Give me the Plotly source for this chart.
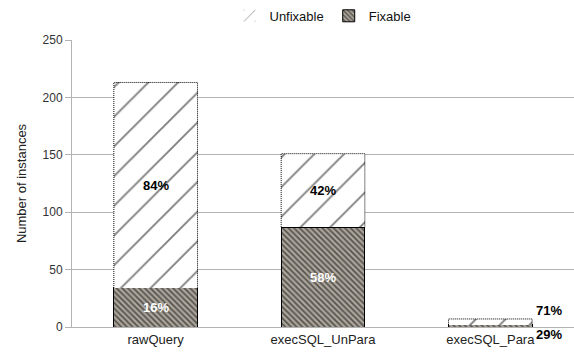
import plotly.graph_objects as go

categories = ["rawQuery", "execSQL_UnPara", "execSQL_Para"]
fixable = [34, 87, 2]
unfixable = [179, 64, 5]
fixable_pct = ["16%", "58%", "29%"]
unfixable_pct = ["84%", "42%", "71%"]
y_ticks = [0, 50, 100, 150, 200, 250]

FONT = "Liberation Sans, Arial, sans-serif"
xs = list(range(len(categories)))
BW = 0.5

fig = go.Figure()
fig.add_trace(go.Bar(
    x=xs, y=fixable, name="Fixable", width=BW,
    marker=dict(color="#aca69c",
                pattern=dict(shape="\\", fgcolor="#000000", bgcolor="#aca69c", size=4, solidity=0.45),
                line=dict(color="black", width=1)),
    hoverinfo="skip",
))
fig.add_trace(go.Bar(
    x=xs, y=unfixable, name="Unfixable", width=BW,
    marker=dict(color="white",
                pattern=dict(shape="/", fgcolor="#000000", bgcolor="white", size=21, solidity=0.09),
                line=dict(color="rgba(0,0,0,0)", width=0)),
    hoverinfo="skip",
))

# dotted outlines of the unfixable segments
for i in xs:
    y0 = fixable[i]
    y1 = fixable[i] + unfixable[i]
    fig.add_trace(go.Scatter(
        x=[i - BW / 2, i - BW / 2, i + BW / 2, i + BW / 2],
        y=[y0, y1, y1, y0],
        mode="lines", line=dict(color="black", width=1, dash="1px,1px"),
        showlegend=False, hoverinfo="skip",
    ))

annotations = []
for i in xs:
    tot = fixable[i] + unfixable[i]
    if tot > 30:
        annotations.append(dict(x=i, y=fixable[i] + unfixable[i] / 2, text="<b>" + unfixable_pct[i] + "</b>",
                                showarrow=False, font=dict(family=FONT, size=13, color="black")))
        annotations.append(dict(x=i, y=fixable[i] / 2, text="<b>" + fixable_pct[i] + "</b>",
                                showarrow=False, font=dict(family=FONT, size=13, color="white")))
    else:
        annotations.append(dict(x=i + BW / 2, y=tot, text="<b>" + unfixable_pct[i] + "</b>",
                                xanchor="left", yanchor="bottom", xshift=2, yshift=-1,
                                showarrow=False, font=dict(family=FONT, size=13, color="black")))
        annotations.append(dict(x=i + BW / 2, y=0, text="<b>" + fixable_pct[i] + "</b>",
                                xanchor="left", yanchor="top", xshift=2, yshift=2,
                                showarrow=False, font=dict(family=FONT, size=13, color="black")))

fig.update_layout(
    width=574, height=352,
    margin=dict(l=72, r=0, t=40, b=25, autoexpand=False),
    barmode="stack",
    plot_bgcolor="white", paper_bgcolor="white",
    font=dict(family=FONT, size=13, color="#222222"),
    showlegend=True,
    legend=dict(orientation="h", x=0.5, xanchor="center", yref="container", y=0.955, yanchor="middle",
                traceorder="reversed", itemwidth=30, font=dict(size=13, color="#111111"),
                bgcolor="rgba(0,0,0,0)"),
    annotations=annotations,
)
fig.update_xaxes(
    tickmode="array", tickvals=xs, ticktext=categories, range=[-0.5, 2.5],
    showgrid=False, showline=True, linecolor="#b3b3b3", linewidth=1,
    ticks="", tickfont=dict(size=13, color="#222222"), zeroline=False, automargin=False,
)
fig.update_yaxes(
    range=[0, 250], tickvals=y_ticks, showgrid=True, gridcolor="#b3b3b3", gridwidth=1,
    showline=True, linecolor="#b3b3b3", ticks="outside", ticklen=6, tickcolor="#b3b3b3",
    tickfont=dict(size=12, color="#333333"), zeroline=False, automargin=False,
    title=dict(text="Number of instances", font=dict(size=13, color="#222222"), standoff=13),
)
fig.write_html("out.html", config={"displayModeBar": False},
               post_script="document.body.style.margin='0';document.body.style.overflow='hidden';")
